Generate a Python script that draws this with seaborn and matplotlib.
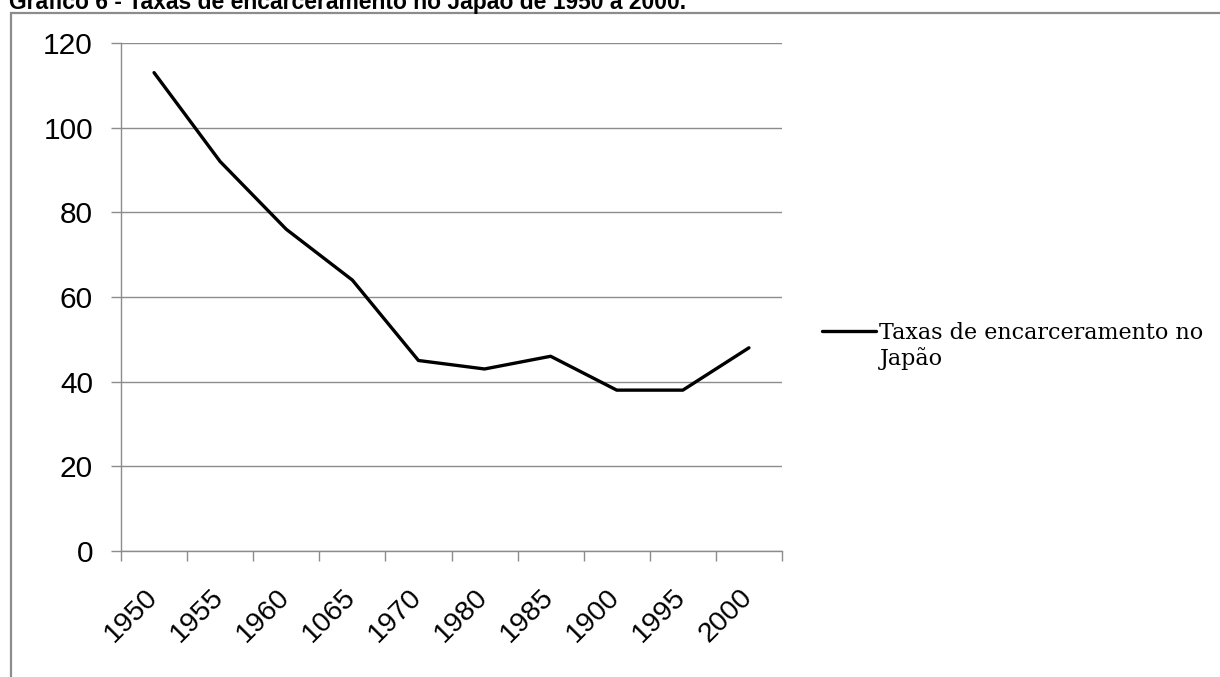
import matplotlib
matplotlib.use("Agg")
import matplotlib.pyplot as plt
import matplotlib.transforms as mtransforms
from matplotlib.patches import Rectangle
from matplotlib.ticker import FixedLocator
import seaborn as sns
import pandas as pd

# Taxas de encarceramento no Japão (por 100 mil habitantes)
anos = ["1950", "1955", "1960", "1065", "1970", "1980", "1985", "1900", "1995", "2000"]
taxas = [113, 92, 76, 64, 45, 43, 46, 38, 38, 48]
y_ticks = [0, 20, 40, 60, 80, 100, 120]

titulo = "Gráfico 6 - Taxas de encarceramento no Japão de 1950 a 2000."
rotulo_serie = "Taxas de encarceramento no"
rotulo_serie_2 = "Japão"

sns.set_theme(style="white")
plt.rcParams["font.family"] = ["Liberation Sans", "DejaVu Sans"]
plt.rcParams["text.color"] = "black"
plt.rcParams["xtick.color"] = "black"
plt.rcParams["ytick.color"] = "black"

W, H = 1220, 677
GRAY = "#8c8c8c"

fig = plt.figure(figsize=(W / 100, H / 100), dpi=100)
fig.patch.set_facecolor("white")
ax = fig.add_axes([121 / W, 1 - 551 / H, 661 / W, 508 / H])

df = pd.DataFrame({"pos": range(len(anos)), "ano": anos, "taxa": taxas})
sns.lineplot(data=df, x="pos", y="taxa", ax=ax, color="black", lw=2.4,
             sort=False, label=rotulo_serie)

ax.set_xlim(-0.5, len(anos) - 0.5)
ax.set_ylim(0, 120)
ax.set_xlabel("")
ax.set_ylabel("")

# category labels at centres, tick marks at the category boundaries
ax.set_xticks(df["pos"])
ax.set_xticklabels(anos, rotation=45, ha="right", va="top",
                   rotation_mode="anchor", fontsize=20.5, color="black")
ax.xaxis.set_minor_locator(FixedLocator([p - 0.5 for p in range(len(anos) + 1)]))
ax.tick_params(axis="x", which="major", length=0, pad=24)
ax.tick_params(axis="x", which="minor", bottom=True, length=7.2, width=1.0,
               color=GRAY, direction="out")
offset = mtransforms.ScaledTranslation(-10 / 100, 0, fig.dpi_scale_trans)
for lbl in ax.get_xticklabels():
    lbl.set_transform(lbl.get_transform() + offset)

ax.set_yticks(y_ticks)
ax.tick_params(axis="y", left=True, length=7.2, width=1.0, color=GRAY,
               labelcolor="black", direction="out", pad=13, labelsize=21.5)

ax.grid(False)
ax.yaxis.grid(True, color=GRAY, lw=1.0)
ax.set_axisbelow(True)
for s in ["top", "right"]:
    ax.spines[s].set_visible(False)
for s in ["left", "bottom"]:
    ax.spines[s].set_color(GRAY)
    ax.spines[s].set_linewidth(1.0)

serif = {"family": "DejaVu Serif", "size": 16}
leg = ax.legend(loc="center left", bbox_to_anchor=(822 / W, 1 - 333 / H),
                bbox_transform=fig.transFigure, frameon=False, prop=serif,
                handlelength=2.45, handletextpad=0.12, borderpad=0,
                borderaxespad=0, labelcolor="black")
fig.text(880 / W, 1 - 365 / H, rotulo_serie_2, fontdict=serif,
         color="black", ha="left", va="baseline")

fig.text(9 / W, 1 - 9 / H, titulo, fontsize=16.5, fontweight="bold",
         color="black", ha="left", va="baseline")

moldura = Rectangle((10.5 / W, -0.05), 1.5, 1.05 - 12.5 / H,
                    transform=fig.transFigure, fill=False,
                    edgecolor=GRAY, lw=1.6)
fig.add_artist(moldura)

fig.savefig("out.png", dpi=100, facecolor="white")
